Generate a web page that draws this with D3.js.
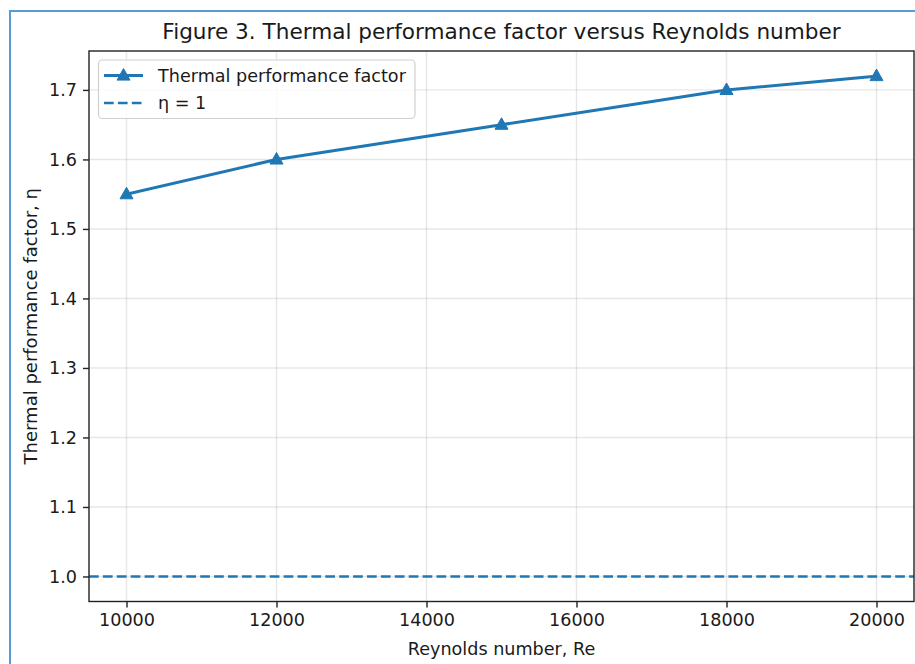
<!DOCTYPE html>
<html>
<head>
<meta charset="utf-8">
<script src="https://cdn.jsdelivr.net/npm/d3@7"></script>
<style>
  html, body { margin: 0; padding: 0; background: #fff; }
  svg { display: block; font-family: "DejaVu Sans", sans-serif; }
</style>
</head>
<body>
<svg id="chart" width="915" height="664"></svg>
<script>
// ---- data ----
const reynolds = [10000, 12000, 15000, 18000, 20000];
const eta = [1.55, 1.60, 1.65, 1.70, 1.72];
const referenceEta = 1.0;
const xTicks = [10000, 12000, 14000, 16000, 18000, 20000];
const yTicks = [1.0, 1.1, 1.2, 1.3, 1.4, 1.5, 1.6, 1.7];
const titleText = "Figure 3. Thermal performance factor versus Reynolds number";
const xLabel = "Reynolds number, Re";
const yLabel = "Thermal performance factor, η";
const legendLabels = ["Thermal performance factor", "η = 1"];

// ---- layout ----
const svg = d3.select("#chart");
const plot = { left: 89, right: 914, top: 51, bottom: 601.5 };
const blue = "#1f77b4";
const fontPx = 17.6;

// outer blue frame (extends past the image)
svg.append("rect")
  .attr("x", 10).attr("y", 11)
  .attr("width", 960).attr("height", 700)
  .attr("fill", "none").attr("stroke", "#5b9bd5").attr("stroke-width", 2);

const xMin = d3.min(reynolds), xMax = d3.max(reynolds);
const xPad = (xMax - xMin) * 0.05;
const x = d3.scaleLinear().domain([xMin - xPad, xMax + xPad]).range([plot.left, plot.right]);
const yLo = Math.min(referenceEta, d3.min(eta)), yHi = Math.max(referenceEta, d3.max(eta));
const yPad = (yHi - yLo) * 0.05;
const y = d3.scaleLinear().domain([yLo - yPad, yHi + yPad]).range([plot.bottom, plot.top]);

// grid
const grid = svg.append("g").attr("stroke", "#b0b0b0").attr("stroke-opacity", 0.3).attr("stroke-width", 1.4);
grid.selectAll("line.v").data(xTicks).join("line")
  .attr("x1", d => x(d)).attr("x2", d => x(d))
  .attr("y1", plot.top).attr("y2", plot.bottom);
grid.selectAll("line.h").data(yTicks).join("line")
  .attr("y1", d => y(d)).attr("y2", d => y(d))
  .attr("x1", plot.left).attr("x2", plot.right);

// reference line
svg.append("line")
  .attr("x1", plot.left).attr("x2", plot.right)
  .attr("y1", y(referenceEta)).attr("y2", y(referenceEta))
  .attr("stroke", blue).attr("stroke-width", 2.6)
  .attr("stroke-dasharray", "9.7,4.2");

// data line
const pts = reynolds.map((r, i) => [r, eta[i]]);
svg.append("path")
  .datum(pts)
  .attr("fill", "none").attr("stroke", blue).attr("stroke-width", 3)
  .attr("stroke-linejoin", "round").attr("stroke-linecap", "square")
  .attr("d", d3.line().x(d => x(d[0])).y(d => y(d[1])));

const tri = (cx, cy, w, h) => `M${cx},${cy - h * 0.6}L${cx + w / 2},${cy + h * 0.4}L${cx - w / 2},${cy + h * 0.4}Z`;
svg.append("g").selectAll("path").data(pts).join("path")
  .attr("d", d => tri(x(d[0]), y(d[1]), 13, 11.5))
  .attr("fill", blue).attr("stroke", blue).attr("stroke-width", 1);

// axes
const xAxis = d3.axisBottom(x).tickValues(xTicks).tickFormat(d3.format("d")).tickSize(6).tickPadding(6);
const yAxis = d3.axisLeft(y).tickValues(yTicks).tickFormat(d3.format(".1f")).tickSize(6).tickPadding(6);
const gx = svg.append("g").attr("transform", `translate(0,${plot.bottom})`).call(xAxis);
const gy = svg.append("g").attr("transform", `translate(${plot.left},0)`).call(yAxis);
[gx, gy].forEach(g => {
  g.select(".domain").remove();
  g.selectAll(".tick line").attr("stroke", "#222").attr("stroke-width", 1.4);
  g.selectAll(".tick text").attr("fill", "#1a1a1a").style("font-size", fontPx + "px")
    .style("font-family", "DejaVu Sans, sans-serif");
});

// axes frame
svg.append("rect")
  .attr("x", plot.left).attr("y", plot.top)
  .attr("width", plot.right - plot.left).attr("height", plot.bottom - plot.top)
  .attr("fill", "none").attr("stroke", "#222").attr("stroke-width", 1.4);

// title and labels
svg.append("text").attr("x", (plot.left + plot.right) / 2).attr("y", 38.5)
  .attr("text-anchor", "middle").style("font-size", "21.6px").attr("fill", "#1a1a1a")
  .text(titleText);
svg.append("text").attr("x", (plot.left + plot.right) / 2).attr("y", 655)
  .attr("text-anchor", "middle").style("font-size", fontPx + "px").attr("fill", "#1a1a1a")
  .text(xLabel);
svg.append("text")
  .attr("transform", `translate(37,${(plot.top + plot.bottom) / 2}) rotate(-90)`)
  .attr("text-anchor", "middle").style("font-size", "18px").attr("fill", "#1a1a1a")
  .text(yLabel);

// legend
const lg = svg.append("g");
lg.append("rect").attr("x", 98.5).attr("y", 60).attr("width", 316.5).attr("height", 58.5)
  .attr("rx", 4).attr("fill", "#fff").attr("fill-opacity", 0.8)
  .attr("stroke", "#d0d0d0").attr("stroke-width", 1.2);
const rows = [75.5, 103];
lg.append("line").attr("x1", 104).attr("x2", 143).attr("y1", rows[0]).attr("y2", rows[0])
  .attr("stroke", blue).attr("stroke-width", 3);
lg.append("path").attr("d", tri(123.5, rows[0], 13, 11.5)).attr("fill", blue).attr("stroke", blue);
lg.append("line").attr("x1", 104).attr("x2", 143).attr("y1", rows[1]).attr("y2", rows[1])
  .attr("stroke", blue).attr("stroke-width", 2.6).attr("stroke-dasharray", "9.7,4.2");
lg.selectAll("text.l").data(legendLabels).join("text")
  .attr("x", 158).attr("y", (d, i) => rows[i] + 6)
  .style("font-size", fontPx + "px").attr("fill", "#1a1a1a")
  .text(d => d);
</script>
</body>
</html>
